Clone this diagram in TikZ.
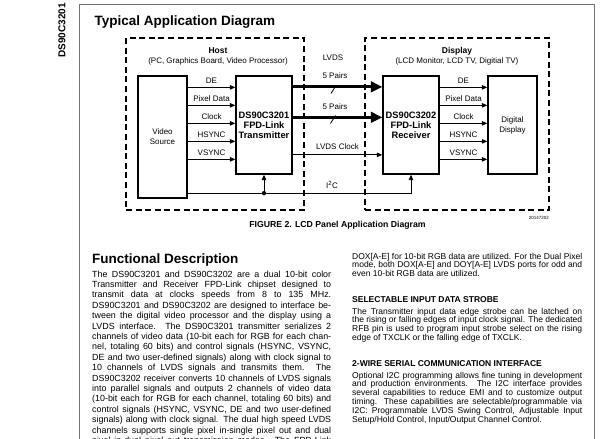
\documentclass[tikz,border=0pt]{standalone}
\usepackage{fontspec}
\setmainfont{Liberation Sans}
\usetikzlibrary{arrows.meta,calc}
\newlength\colw
\newcommand\jl[1]{\hbox to \colw{#1}}
\newcommand\lastl[1]{\hbox{#1}}
\begin{document}
\begin{tikzpicture}[x=1pt,y=-1pt,
  pageframe/.style={draw=black!55,line width=0.8pt},
  dbox/.style={draw,line width=1.5pt,dash pattern=on 6pt off 3.6pt,inner sep=0pt,outer sep=0pt},
  blk/.style={draw,line width=1.3pt,inner sep=0pt,align=center},
  chip/.style={font=\bfseries\fontsize{9.3}{10}\selectfont},
  boxtext/.style={font=\fontsize{8}{10}\selectfont},
  lbl/.style={font=\fontsize{8}{10}\selectfont,inner sep=0pt},
  sig/.style={line width=0.9pt,-{Triangle[length=5.5pt,width=4.5pt]}},
  wire/.style={line width=0.9pt},
  bus/.style={line width=3pt,-{Triangle[length=11.5pt,width=10.5pt]}},
  txt/.style={inner sep=0pt,anchor=base west}
]
\useasboundingbox (0,0) rectangle (600,439);
\clip (0,0) rectangle (600,439);
\fill[white] (0,0) rectangle (600,439);

% page frame and side label
\draw[pageframe] (79,440) -- (79,4) -- (594,4) -- (594,440);
\node[rotate=90,inner sep=0pt,font=\bfseries\fontsize{10}{12}\selectfont] (side) at (62,30.5) {DS90C3201};
\node[txt,font=\bfseries\fontsize{13.5}{16}\selectfont] (title) at (94.5,25) {Typical Application Diagram};

% containers
\node[dbox,minimum width=178pt,minimum height=172pt] (host) at (215,124) {};
\node[dbox,minimum width=184pt,minimum height=172pt] (dispbox) at (457,124) {};
\node[inner sep=0pt,font=\bfseries\fontsize{8.5}{10}\selectfont] (hostt) at (218,51) {Host};
\node[lbl] (hostd) at (218,61) {(PC, Graphics Board, Video Processor)};
\node[inner sep=0pt,font=\bfseries\fontsize{8.5}{10}\selectfont] (dispt) at (457,51) {Display};
\node[lbl] (dispd) at (457,61) {(LCD Monitor, LCD TV, Digitial TV)};

% blocks
\node[blk,boxtext,minimum width=49pt,minimum height=122pt] (vsrc) at (162.5,137) {Video\\Source};
\node[blk,chip,minimum width=56pt,minimum height=98pt] (tx) at (264,125) {DS90C3201\\FPD-Link\\Transmitter};
\node[blk,chip,minimum width=56pt,minimum height=98pt] (rx) at (411,125) {DS90C3202\\FPD-Link\\Receiver};
\node[blk,boxtext,minimum width=49pt,minimum height=98pt] (disp) at (512.5,125) {Digital\\Display};

% parallel signals
\foreach \o/\t [count=\i] in {12/DE,30/Pixel Data,48/Clock,66/HSYNC,84/VSYNC}{
  \coordinate (a\i) at ($(tx.north west)+(0,\o)$);
  \draw[sig] (a\i -| vsrc.east) -- (a\i) node[lbl,midway,above=3.6pt] (la\i) {\t};
  \coordinate (b\i) at ($(disp.north west)+(0,\o)$);
  \draw[sig] (b\i -| rx.east) -- (b\i) node[lbl,midway,above=3.6pt] (lb\i) {\t};
}

% LVDS link
\coordinate (p1) at ($(tx.north east)+(0,11.5)$);
\coordinate (p2) at ($(tx.north east)+(0,42)$);
\coordinate (p3) at ($(tx.north east)+(0,79.5)$);
\draw[bus] (p1) -- (p1 -| rx.west);
\draw[bus] (p2) -- (p2 -| rx.west);
\draw[sig] (p3) -- (p3 -| rx.west) node[lbl,midway,above=5pt] (lclk) {LVDS Clock};
\coordinate (s1) at (333.5,89.5);
\coordinate (s2) at (333,119.5);
\draw[line width=0.8pt] ($(s1)+(-2.6,4)$) -- ($(s1)+(2.6,-4)$);
\draw[line width=0.8pt] ($(s2)+(-2.6,4)$) -- ($(s2)+(2.6,-4)$);
\node[lbl] (lvds) at (333,58) {LVDS};
\node[lbl] (pr1) at (335,75.7) {5 Pairs};
\node[lbl] (pr2) at (335,106.7) {5 Pairs};

% I2C
\coordinate (i1) at ($(vsrc.south east)+(0,-5.5)$);
\draw[sig] (i1) -| (rx.south);
\fill (i1 -| tx.south) circle (2.2pt);
\draw[sig] (i1 -| tx.south) -- (tx.south);
\node[lbl] (i2c) at (332,185) {I\textsuperscript{2}C};

\node[inner sep=0pt,anchor=east,font=\fontsize{4.5}{5}\selectfont] (fignum) at (549,218) {20147202};
\node[inner sep=0pt,font=\bfseries\fontsize{8.7}{10}\selectfont] (cap) at (337.5,225) {FIGURE 2. LCD Panel Application Diagram};

% left column
\node[txt,font=\bfseries\fontsize{13.5}{16}\selectfont] (fdh) at (92,263) {Functional Description};
\node[txt] (lcol) at (92,277) {\vtop{\fontsize{8.9}{10.4}\selectfont\setlength\colw{239pt}%
\jl{The DS90C3201 and DS90C3202 are a dual 10-bit color}
\jl{Transmitter and Receiver FPD-Link chipset designed to}
\jl{transmit data at clocks speeds from 8 to 135 MHz.}
\jl{DS90C3201 and DS90C3202 are designed to interface be-}
\jl{tween the digital video processor and the display using a}
\jl{LVDS interface. The DS90C3201 transmitter serializes 2}
\jl{channels of video data (10-bit each for RGB for each chan-}
\jl{nel, totaling 60 bits) and control signals (HSYNC, VSYNC,}
\jl{DE and two user-defined signals) along with clock signal to}
\jl{10 channels of LVDS signals and transmits them. The}
\jl{DS90C3202 receiver converts 10 channels of LVDS signals}
\jl{into parallel signals and outputs 2 channels of video data}
\jl{(10-bit each for RGB for each channel, totaling 60 bits) and}
\jl{control signals (HSYNC, VSYNC, DE and two user-defined}
\jl{signals) along with clock signal. The dual high speed LVDS}
\jl{channels supports single pixel in-single pixel out and dual}
\jl{pixel in-dual pixel out transmission modes. The FPD-Link}}};

% right column
\node[txt] (rp1) at (352,259) {\vtop{\fontsize{8.5}{8.8}\selectfont\setlength\colw{230pt}%
\jl{DOX[A-E] for 10-bit RGB data are utilized. For the Dual Pixel}
\jl{mode, both DOX[A-E] and DOY[A-E] LVDS ports for odd and}
\lastl{even 10-bit RGB data are utilized.}}};
\node[txt,font=\bfseries\fontsize{8.5}{10}\selectfont] (rh1) at (352,302.5) {SELECTABLE INPUT DATA STROBE};
\node[txt] (rp2) at (352,314) {\vtop{\fontsize{8.5}{8.8}\selectfont\setlength\colw{230pt}%
\jl{The Transmitter input data edge strobe can be latched on}
\jl{the rising or falling edges of input clock signal. The dedicated}
\jl{RFB pin is used to program input strobe select on the rising}
\lastl{edge of TXCLK or the falling edge of TXCLK.}}};
\node[txt,font=\bfseries\fontsize{8.5}{10}\selectfont] (rh2) at (352,366.6) {2-WIRE SERIAL COMMUNICATION INTERFACE};
\node[txt] (rp3) at (352,378) {\vtop{\fontsize{8.5}{8.8}\selectfont\setlength\colw{230pt}%
\jl{Optional I2C programming allows fine tuning in development}
\jl{and production environments. The I2C interface provides}
\jl{several capabilities to reduce EMI and to customize output}
\jl{timing. These capabilities are selectable/programmable via}
\jl{I2C: Programmable LVDS Swing Control, Adjustable Input}
\lastl{Setup/Hold Control, Input/Output Channel Control.}}};
\end{tikzpicture}
\end{document}
